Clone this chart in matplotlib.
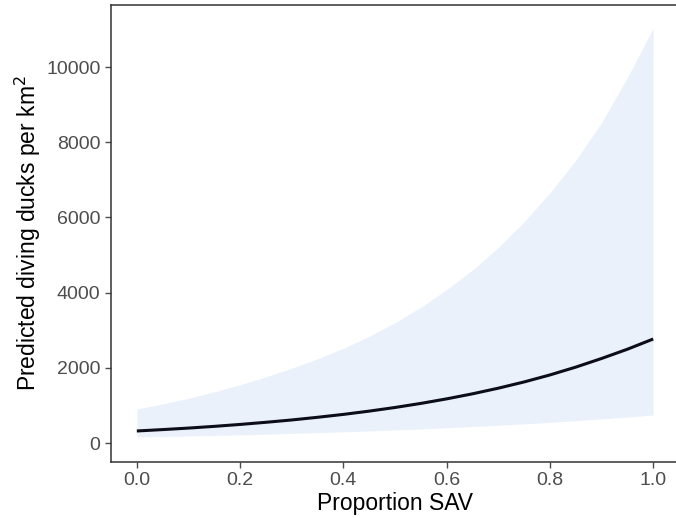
import numpy as np
import matplotlib
matplotlib.use('Agg')
import matplotlib.pyplot as plt

# predicted values
prop_sav = [0.0, 0.05, 0.1, 0.15, 0.2, 0.25, 0.3, 0.35, 0.4, 0.45, 0.5,
            0.55, 0.6, 0.65, 0.7, 0.75, 0.8, 0.85, 0.9, 0.95, 1.0]
predicted = [320, 357, 397, 443, 494, 551, 613, 684, 761, 848, 945,
             1053, 1174, 1308, 1458, 1624, 1810, 2018, 2248, 2494, 2766]
lower_ci = [160, 173, 187, 202, 218, 236, 255, 275, 297, 321, 346,
            374, 404, 436, 471, 509, 550, 594, 641, 692, 745]
upper_ci = [904, 1040, 1190, 1360, 1550, 1760, 1990, 2240, 2520, 2840, 3200,
            3610, 4080, 4600, 5200, 5880, 6650, 7520, 8520, 9720, 11037]

plt.rcParams['font.family'] = ['Liberation Sans', 'DejaVu Sans']

fig = plt.figure(figsize=(6.76, 5.18), dpi=100)
ax = fig.add_axes([111 / 676, 1 - 462 / 518, (679 - 111) / 676, (462 - 5) / 518])

ax.fill_between(prop_sav, lower_ci, upper_ci, color='#ebf1fb', linewidth=0)
ax.plot(prop_sav, predicted, color='#0d0d1a', linewidth=2.2, solid_capstyle='butt')

ax.set_xlim(-0.05, 1.05)
ax.set_ylim(-505, 11649)
ax.set_xticks([0.0, 0.2, 0.4, 0.6, 0.8, 1.0])
ax.set_xticklabels(['0.0', '0.2', '0.4', '0.6', '0.8', '1.0'])
ax.set_yticks([0, 2000, 4000, 6000, 8000, 10000])

ax.tick_params(colors='#4d4d4d', labelsize=14, length=4, width=1)
for side in ['left', 'bottom', 'top']:
    ax.spines[side].set_color('#333333')
    ax.spines[side].set_linewidth(1.1)
ax.spines['right'].set_visible(False)

ax.set_xlabel('Proportion SAV', fontsize=16.5, labelpad=2)
ax.set_ylabel('Predicted diving ducks per km$^2$', fontsize=16.5, labelpad=2)

fig.savefig('out.png', dpi=100)
